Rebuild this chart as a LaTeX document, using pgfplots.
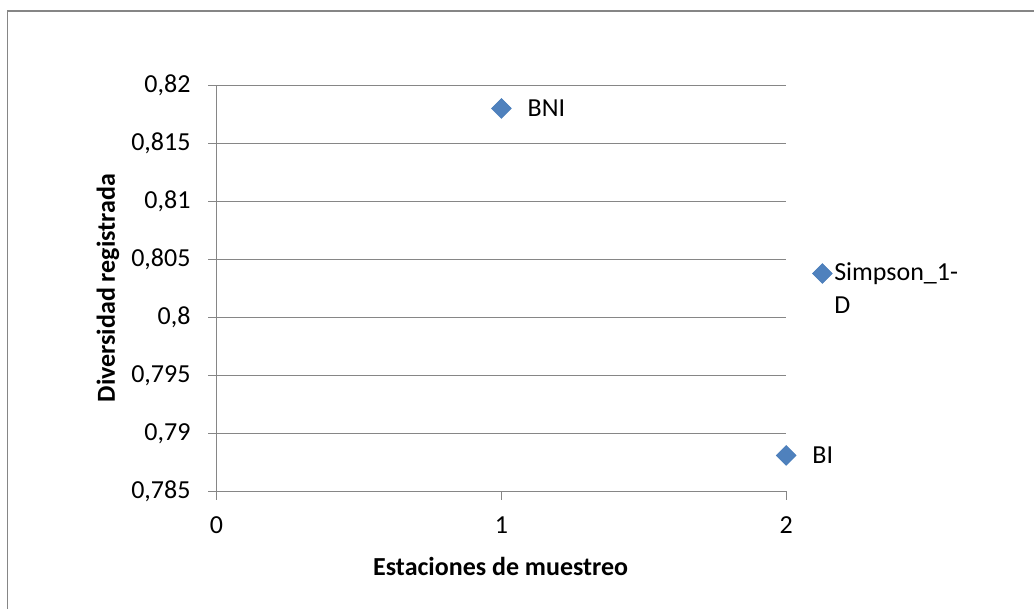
\documentclass[border=0pt]{standalone}
\usepackage{pgfplots}
\pgfplotsset{compat=1.18}
\usepackage{fontspec}
\setmainfont{Carlito}
\definecolor{axisgray}{HTML}{868686}
\definecolor{markblue}{HTML}{4F81BD}
\definecolor{markedge}{HTML}{4A7EBB}
\newcommand\chartfont{\fontsize{26bp}{33bp}\selectfont}
\begin{document}
\chartfont
\begin{tikzpicture}[x=1bp,y=1bp]
% chart area with its border
\path[fill=white] (0,0) rectangle (1035,609);
\draw[axisgray, line width=1.3bp] (7.5,0) -- (7.5,598) -- (1035,598);
\begin{axis}[
  at={(216.7bp,117.3bp)}, anchor=south west,
  scale only axis, width=570bp, height=406.4bp,
  xmin=0, xmax=2, ymin=0.785, ymax=0.82,
  axis x line*=bottom, axis y line*=left,
  axis line style={axisgray, line width=1.3bp, -},
  xtick={0,1,2}, xticklabels={0,1,2},
  ytick={0.785,0.79,0.795,0.8,0.805,0.81,0.815,0.82},
  yticklabels={{0,785},{0,79},{0,795},{0,8},{0,805},{0,81},{0,815},{0,82}},
  tick style={axisgray, line width=1.3bp},
  tick align=outside, major tick length=8.5bp,
  ymajorgrids, major grid style={axisgray, line width=1.3bp},
  ticklabel style={font=\chartfont, text=black},
  xticklabel style={yshift=-8bp},
  yticklabel style={xshift=-8.8bp},
  clip=false,
  % marker sits level with the first line of the wrapped entry
  legend image code/.code={\draw[#1] plot coordinates {(0bp,16.5bp)};},
  legend cell align=left,
  legend style={draw=none, fill=none, inner sep=0pt, outer sep=0pt,
    at={(1.0461,0.4959)}, anchor=west, font=\chartfont,
    cells={align=left}},
]
\addplot[only marks, mark=square*, mark size=7bp,
  mark options={rotate=45, fill=markblue, draw=markedge, line width=0.6bp},
  nodes near coords, point meta=explicit symbolic,
  every node near coord/.style={anchor=west, xshift=17.3bp, font=\chartfont, text=black}]
  table[meta=label] {
x y label
1 0.818 BNI
2 0.7881 BI
};
\addlegendentry{Simpson\_1-\\D}
\end{axis}
\node[font=\chartfont\bfseries, anchor=base] at (501,33.3) {Estaciones de muestreo};
\node[font=\chartfont\bfseries, rotate=90] at (108,320.7) {Diversidad registrada};
\end{tikzpicture}
\end{document}
